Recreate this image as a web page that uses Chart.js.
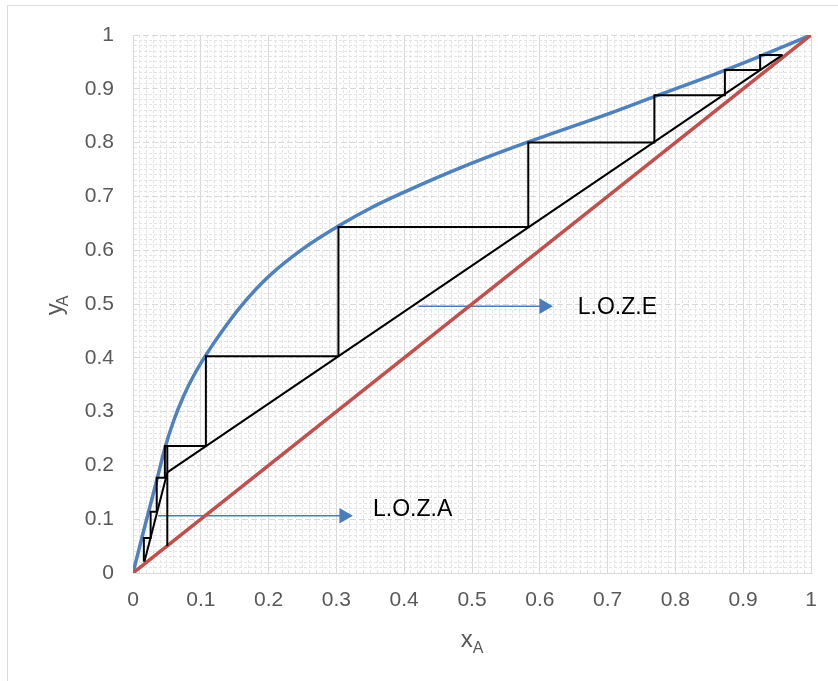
<!DOCTYPE html>
<html lang="en">
<head>
  <meta charset="UTF-8" />
  <title>McCabe-Thiele</title>
  <script src="https://cdn.jsdelivr.net/npm/chart.js"></script>
  <style>
    body {
      margin: 0;
      background: #ffffff;
      font-family: 'Liberation Sans', Arial, sans-serif;
    }

    .frame {
      position: absolute;
      left: 7px;
      top: 5px;
      width: 900px;
      height: 760px;
      border: 1px solid #d9d9d9;
    }

    .wrap {
      position: absolute;
      left: 0;
      top: 0;
      width: 838px;
      height: 681px;
    }
  </style>
</head>
<body>
  <div class="frame"></div>
  <div class="wrap">
    <canvas id="chart"></canvas>
  </div>

  <script>
    // equilibrium curve (blue)
    const eqX = [0, 0.016, 0.035, 0.047, 0.06, 0.075, 0.09, 0.1075, 0.13, 0.16, 0.2, 0.25, 0.303, 0.35, 0.4, 0.45, 0.5, 0.58, 0.7, 0.77, 0.87, 0.92, 1];
    const eqY = [0, 0.08, 0.172, 0.232, 0.283, 0.33, 0.368, 0.405, 0.447, 0.497, 0.551, 0.602, 0.645, 0.678, 0.708, 0.736, 0.762, 0.80, 0.853, 0.886, 0.933, 0.958, 1];

    // diagonal y = x (red)
    const diagX = [0, 1];
    const diagY = [0, 1];

    // operating lines + q-line (black)
    const rectX = [0.0506, 0.958];
    const rectY = [0.187, 0.963];
    const stripX = [0.017, 0.0506];
    const stripY = [0.022, 0.187];
    const qX = [0.0506, 0.0506];
    const qY = [0.05, 0.237];

    // stages
    const stepX = [0.958, 0.925, 0.925, 0.873, 0.873, 0.769, 0.769, 0.583, 0.583, 0.303, 0.303, 0.1075, 0.1075, 0.047, 0.047, 0.035, 0.035, 0.026, 0.026, 0.016, 0.016];
    const stepY = [0.963, 0.963, 0.935, 0.935, 0.888, 0.888, 0.80, 0.80, 0.643, 0.643, 0.403, 0.403, 0.236, 0.236, 0.177, 0.177, 0.114, 0.114, 0.065, 0.065, 0.021];

    // arrows and their labels
    const lozeX = [0.421, 0.606];
    const lozeY = [0.496, 0.496];
    const lozaX = [0.037, 0.311];
    const lozaY = [0.1065, 0.1065];
    const noteText = ['L.O.Z.E', 'L.O.Z.A'];
    const noteX = [0.656, 0.354];
    const noteY = [0.493, 0.117];

    const FONT = "'Liberation Sans', Arial, sans-serif";
    const tickFont = { family: FONT, size: 21 };

    function pts(xs, ys) {
      return xs.map((x, i) => ({ x: x, y: ys[i] }));
    }

    function isMajor(v) {
      return Math.round(v * 100) % 10 === 0;
    }

    function tickLabel(v) {
      if (!isMajor(v)) return '';
      if (v === 0) return '0';
      if (v === 1) return '1';
      return v.toFixed(1);
    }

    function lineSet(xs, ys, color, width) {
      return {
        data: pts(xs, ys),
        showLine: true,
        borderColor: color,
        backgroundColor: color,
        borderWidth: width,
        pointRadius: 0,
        fill: false
      };
    }

    function arrowSet(xs, ys) {
      const ds = lineSet(xs, ys, '#4a7ebb', 1.5);
      ds.pointRadius = xs.map((x, i) => i === xs.length - 1 ? 9 : 0);
      ds.pointStyle = 'triangle';
      ds.rotation = 90;
      ds.pointBorderWidth = 0;
      return ds;
    }

    const eqSet = lineSet(eqX, eqY, '#4f81bd', 3.5);
    eqSet.cubicInterpolationMode = 'monotone';

    // notes next to the arrows + axis titles with subscripts
    const textPlugin = {
      id: 'texts',
      afterDraw(chart) {
        const c = chart.ctx;
        const xs = chart.scales.x, ys = chart.scales.y;
        const area = chart.chartArea;
        c.save();
        c.fillStyle = '#000000';
        c.font = '23px ' + FONT;
        c.textBaseline = 'middle';
        c.textAlign = 'left';
        noteText.forEach((t, i) => {
          c.fillText(t, xs.getPixelForValue(noteX[i]), ys.getPixelForValue(noteY[i]));
        });

        c.fillStyle = '#595959';
        c.textBaseline = 'alphabetic';
        // x title
        const cx = (area.left + area.right) / 2;
        c.font = '24px ' + FONT;
        const w1 = c.measureText('x').width;
        c.font = '16px ' + FONT;
        const w2 = c.measureText('A').width;
        let sx = cx - (w1 + w2) / 2;
        c.font = '24px ' + FONT;
        c.fillText('x', sx, 647);
        c.font = '16px ' + FONT;
        c.fillText('A', sx + w1, 653);
        // y title
        c.translate(62, (area.top + area.bottom) / 2);
        c.rotate(-Math.PI / 2);
        sx = -(w1 + w2) / 2;
        c.font = '24px ' + FONT;
        c.fillText('y', sx, 0);
        c.font = '16px ' + FONT;
        c.fillText('A', sx + c.measureText('y').width + 1, 6);
        c.restore();
      }
    };

    function axis(isY) {
      return {
        type: 'linear',
        min: 0,
        max: 1,
        afterFit(scale) {
          if (isY) scale.width = 133;
          else scale.height = 108;
        },
        ticks: {
          stepSize: 0.01,
          autoSkip: false,
          maxTicksLimit: 200,
          maxRotation: 0,
          padding: isY ? 19 : 15,
          color: '#595959',
          font: tickFont,
          callback: (v) => tickLabel(v)
        },
        grid: {
          drawTicks: false,
          lineWidth: 1,
          color: (ctx) => (ctx.tick && isMajor(ctx.tick.value)) ? '#d9d9d9' : '#e4e4e4'
        },
        border: {
          color: '#d9d9d9',
          width: 1,
          dash: (ctx) => {
            if (!ctx.tick) return [];
            if (isMajor(ctx.tick.value)) return isY ? [6, 3] : [];
            return [3, 2];
          }
        }
      };
    }

    const chart = new Chart(document.getElementById('chart').getContext('2d'), {
      type: 'scatter',
      data: {
        datasets: [
          lineSet(stepX, stepY, '#000000', 2),
          lineSet(rectX, rectY, '#000000', 2),
          lineSet(stripX, stripY, '#000000', 2),
          lineSet(qX, qY, '#000000', 2),
          lineSet(diagX, diagY, '#c0504d', 3.5),
          eqSet,
          arrowSet(lozeX, lozeY),
          arrowSet(lozaX, lozaY)
        ]
      },
      options: {
        responsive: true,
        maintainAspectRatio: false,
        animation: false,
        layout: {
          padding: { top: 35, right: 27, left: 0, bottom: 0 }
        },
        plugins: {
          legend: { display: false },
          tooltip: { enabled: false }
        },
        scales: {
          x: axis(false),
          y: axis(true)
        }
      },
      plugins: [textPlugin]
    });
  </script>
</body>
</html>
